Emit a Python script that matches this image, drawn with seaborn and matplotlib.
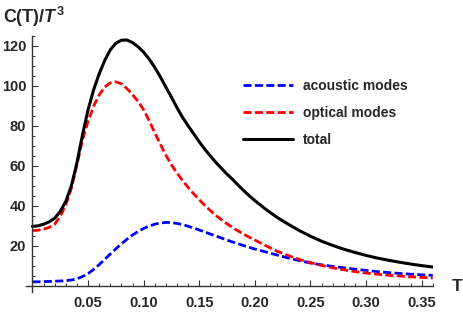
import seaborn as sns
import pandas as pd
from matplotlib import pyplot as plt
from matplotlib.ticker import MultipleLocator, FixedLocator

# temperature grid and values
T = [0.0, 0.005, 0.01, 0.015, 0.02, 0.025, 0.03, 0.035, 0.04, 0.045,
     0.05, 0.055, 0.06, 0.065, 0.07, 0.075, 0.08, 0.085, 0.09, 0.095,
     0.10, 0.105, 0.11, 0.115, 0.12, 0.125, 0.13, 0.135, 0.14, 0.145,
     0.15, 0.155, 0.16, 0.165, 0.17, 0.175, 0.18, 0.185, 0.19, 0.195,
     0.20, 0.21, 0.22, 0.23, 0.24, 0.25, 0.26, 0.27, 0.28, 0.29,
     0.30, 0.31, 0.32, 0.33, 0.34, 0.35, 0.36]

acoustic = [2.0, 2.0, 2.1, 2.2, 2.3, 2.4, 2.6, 2.9, 3.5, 4.6,
            6.1, 8.2, 10.6, 13.2, 15.9, 18.5, 21.0, 23.3, 25.4, 27.2,
            28.7, 29.9, 30.8, 31.4, 31.7, 31.6, 31.2, 30.6, 29.8, 28.9,
            27.9, 26.9, 25.9, 24.9, 23.9, 22.9, 21.9, 21.0, 20.1, 19.2,
            18.4, 16.9, 15.4, 13.9, 12.6, 11.4, 10.5, 9.7, 9.0, 8.3,
            7.7, 7.1, 6.6, 6.2, 5.8, 5.5, 5.2]

optical = [27.6, 27.8, 28.3, 29.2, 30.8, 34.8, 40.5, 48.8, 60.5, 73.0,
           82.2, 89.8, 95.5, 99.4, 101.5, 102.0, 101.0, 98.6, 95.6, 92.2,
           88.0, 82.5, 76.5, 70.8, 65.3, 60.5, 56.3, 52.6, 49.2, 46.0,
           43.0, 40.2, 37.6, 35.2, 33.0, 31.0, 29.1, 27.4, 25.8, 24.3,
           22.9, 20.0, 17.3, 15.1, 13.2, 11.6, 10.2, 9.0, 8.0, 7.1,
           6.4, 5.8, 5.3, 4.9, 4.5, 4.2, 3.9]

total = [29.7, 30.0, 30.8, 32.0, 33.8, 37.2, 42.2, 50.0, 61.5, 75.5,
         88.0, 98.0, 106.0, 112.7, 118.0, 121.3, 122.8, 122.9, 121.6, 119.5,
         116.8, 113.3, 109.2, 104.5, 99.3, 94.3, 89.0, 84.2, 80.0, 76.0,
         72.0, 68.3, 64.9, 61.7, 58.7, 55.8, 53.2, 50.3, 47.6, 45.0,
         42.6, 38.2, 34.2, 30.8, 27.6, 24.8, 22.3, 20.2, 18.3, 16.7,
         15.2, 13.9, 12.8, 11.8, 10.9, 10.1, 9.4]

df = pd.DataFrame({"T": T, "acoustic": acoustic, "optical": optical, "total": total})

sns.set_style("white")
plt.rcParams["font.family"] = ["Liberation Sans", "DejaVu Sans"]
plt.rcParams["font.weight"] = "bold"
plt.rcParams["mathtext.fontset"] = "custom"
plt.rcParams["mathtext.it"] = "Liberation Sans:italic:bold"
plt.rcParams["mathtext.rm"] = "Liberation Sans:bold"
plt.rcParams["mathtext.bf"] = "Liberation Sans:bold"

fig = plt.figure(figsize=(4.63, 3.12), dpi=100)
ax = fig.add_axes([0.0557, 0.0647, 0.879, 0.8205])

dash = (0, (2.9, 1.2))
sns.lineplot(data=df, x="T", y="acoustic", color="#0000ff", lw=2.0, linestyle=dash,
             label="acoustic modes", ax=ax)
sns.lineplot(data=df, x="T", y="optical", color="#ff0000", lw=2.0, linestyle=dash,
             label="optical modes", ax=ax)
sns.lineplot(data=df, x="T", y="total", color="black", lw=2.2, label="total", ax=ax)

ax.set_xlim(-0.006, 0.36)
ax.set_ylim(-3, 125)
ax.set_xlabel("")
ax.set_ylabel("")

for s in ["top", "right"]:
    ax.spines[s].set_visible(False)
for s in ["left", "bottom"]:
    ax.spines[s].set_position(("data", 0))
    ax.spines[s].set_color("#333333")
    ax.spines[s].set_linewidth(1.0)

ax.xaxis.set_major_locator(FixedLocator([0.05, 0.10, 0.15, 0.20, 0.25, 0.30, 0.35]))
ax.xaxis.set_minor_locator(MultipleLocator(0.01))
ax.yaxis.set_major_locator(FixedLocator([20, 40, 60, 80, 100, 120]))
ax.yaxis.set_minor_locator(MultipleLocator(5))
ax.set_xticklabels(["0.05", "0.10", "0.15", "0.20", "0.25", "0.30", "0.35"])
ax.tick_params(axis="both", which="both", bottom=True, left=True, top=False, right=False)
ax.tick_params(axis="both", which="major", direction="in", length=4, width=0.8,
               color="#333333", labelsize=10.5)
ax.tick_params(axis="both", which="minor", direction="in", length=2.2, width=0.7,
               color="#333333")
ax.tick_params(axis="x", which="major", pad=7)
ax.tick_params(axis="y", which="major", pad=4.5)
for lab in ax.get_xticklabels() + ax.get_yticklabels():
    lab.set_fontweight("bold")

fig.text(2.7 / 463, 0.925, r"C(T)/$T^3$", fontsize=13, fontweight="bold",
         ha="left", va="baseline")
fig.text(451.5 / 463, 0.068, "T", fontsize=12.5, fontweight="bold",
         ha="left", va="baseline")

leg = ax.legend(loc="upper left", bbox_to_anchor=(243.3 / 463, 0.748),
                bbox_transform=fig.transFigure, frameon=False, fontsize=10,
                handlelength=3.55, handletextpad=0.72, labelspacing=0.95,
                borderpad=0, borderaxespad=0)
for t in leg.get_texts():
    t.set_fontweight("bold")

plt.savefig("out.png", dpi=100)
plt.close(fig)
